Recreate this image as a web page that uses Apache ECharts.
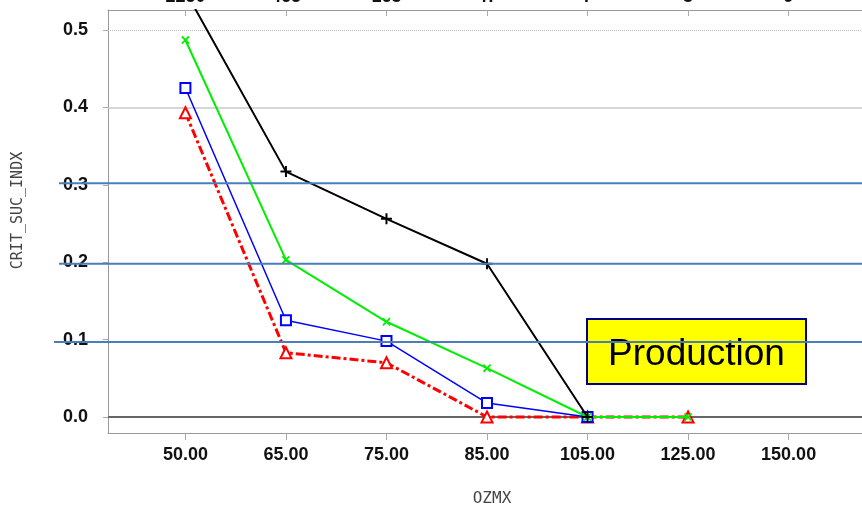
<!DOCTYPE html>
<html>
<head>
<meta charset="utf-8">
<script src="https://cdn.jsdelivr.net/npm/echarts@6/dist/echarts.min.js"></script>
<style>
html,body{margin:0;padding:0;background:#fff;}
#c{width:862px;height:507px;}
</style>
</head>
<body>
<div id="c"></div>
<script>
// ---- data ----
const categories = ['50.00', '65.00', '75.00', '85.00', '105.00', '125.00', '150.00'];
const topLabels = ['2250', '465', '163', '47', '7', '3', '9'];
const yTicks = [0, 0.1, 0.2, 0.3, 0.4, 0.5];
const blackVals = [0.55, 0.317, 0.256, 0.198, 0, null, null];
const greenVals = [0.487, 0.203, 0.123, 0.063, 0, 0, null];
const blueVals = [0.425, 0.125, 0.098, 0.018, 0, null, null];
const redVals = [0.393, 0.083, 0.070, 0, 0, 0, null];
const refLineVals = [0.302, 0.198, 0.097];
const annotationText = 'Production';

const idx = categories.map((_, i) => i);
const toPairs = arr => arr.map((v, i) => [i, v]);

const chart = echarts.init(document.getElementById('c'), null, {renderer: 'canvas'});
const plusPath = 'path://M4.1,0H5.9V4.1H10V5.9H5.9V10H4.1V5.9H0V4.1H4.1Z';

const option = {
  animation: false,
  backgroundColor: '#fff',
  grid: {left: 108, right: 0, top: 10, bottom: 74, containLabel: false, outerBoundsMode: 'none'},
  xAxis: [{
    type: 'value', position: 'bottom', min: -0.77, max: 6.73,
    name: 'OZMX', nameLocation: 'middle', nameGap: 58,
    nameTextStyle: {fontFamily: 'DejaVu Sans Mono', fontSize: 16, color: '#444', padding: [0, 0, 0, 14]},
    axisLine: {show: true, onZero: false, lineStyle: {color: '#999', width: 1}},
    axisTick: {show: true, customValues: idx, length: 7, inside: false, lineStyle: {color: '#aaa'}},
    axisLabel: {customValues: idx, formatter: v => categories[Math.round(v)], fontFamily: 'Liberation Sans',
      fontSize: 18, fontWeight: 'bold', color: '#111', margin: 13},
    splitLine: {show: false}
  }, {
    type: 'value', position: 'top', min: -0.77, max: 6.73,
    axisLine: {show: true, onZero: false, lineStyle: {color: '#999', width: 1}},
    axisTick: {show: true, customValues: idx, length: 6, inside: true, lineStyle: {color: '#aaa'}},
    axisLabel: {customValues: idx, formatter: v => topLabels[Math.round(v)], fontFamily: 'Liberation Sans',
      fontSize: 18, fontWeight: 'bold', color: '#111', margin: 4},
    splitLine: {show: false}
  }],
  yAxis: [{
    type: 'value', min: -0.0207, max: 0.5258,
    name: 'CRIT_SUC_INDX', nameLocation: 'middle', nameGap: 82,
    nameTextStyle: {fontFamily: 'DejaVu Sans Mono', fontSize: 15, color: '#444', padding: [0, 0, 0, 22]},
    axisLine: {show: true, onZero: false, lineStyle: {color: '#999', width: 1}},
    axisTick: {show: true, customValues: yTicks, length: 5, lineStyle: {color: '#aaa'}},
    axisLabel: {customValues: yTicks, formatter: v => v.toFixed(1), fontFamily: 'Liberation Sans',
      fontSize: 18, fontWeight: 'bold', color: '#111', margin: 20},
    splitLine: {show: false}
  }],
  series: [
    {
      type: 'line', data: [], z: 1, silent: true,
      markLine: {
        silent: true, symbol: 'none', label: {show: false}, animation: false, z: 1,
        data: [
          {yAxis: 0.5, lineStyle: {type: 'dotted', color: '#bbb', width: 1}},
          {yAxis: 0.4, lineStyle: {type: 'solid', color: '#c8c8c8', width: 1.5}},
          {yAxis: 0, lineStyle: {type: 'solid', color: '#666', width: 2}}
        ]
      }
    },
    {
      name: 'red', type: 'line', z: 2, data: toPairs(redVals),
      symbol: 'emptyTriangle', symbolSize: 11,
      lineStyle: {color: '#ff0000', width: 3, type: [9, 3, 3, 3]},
      itemStyle: {color: '#ff0000', borderWidth: 1.5}
    },
    {
      name: 'blue', type: 'line', z: 3, data: toPairs(blueVals),
      symbol: 'emptyRect', symbolSize: 10,
      lineStyle: {color: '#0000ff', width: 1.5},
      itemStyle: {color: '#0000ff', borderWidth: 1.5}
    },
    {
      name: 'green', type: 'line', z: 4, data: toPairs(greenVals),
      symbol: plusPath, symbolRotate: 45, symbolSize: 10,
      lineStyle: {color: '#00ee00', width: 2},
      itemStyle: {color: '#00ee00'}
    },
    {
      name: 'black', type: 'line', z: 5, data: toPairs(blackVals),
      symbol: plusPath, symbolSize: 11,
      lineStyle: {color: '#000', width: 2},
      itemStyle: {color: '#000'}
    }
  ]
};
chart.setOption(option);

// annotations: box + reference lines
const rightPx = 862;
const lineStarts = [59, 59, 54];
const graphics = [{
  type: 'group', z: 90,
  children: [{
    type: 'rect', shape: {x: 587, y: 319, width: 219, height: 65},
    style: {fill: '#ffff00', stroke: '#00008b', lineWidth: 2}, z: 90
  }, {
    type: 'text', x: 696.5, y: 355,
    style: {text: annotationText, font: '37px "Liberation Sans"', fill: '#000', align: 'center', verticalAlign: 'middle'}, z: 91
  }]
}];
refLineVals.forEach((v, i) => {
  const y = chart.convertToPixel({yAxisIndex: 0}, v);
  graphics.push({
    type: 'line', z: 100,
    shape: {x1: lineStarts[i], y1: y, x2: rightPx, y2: y},
    style: {stroke: '#4a7ebb', lineWidth: 2}
  });
});
chart.setOption({graphic: graphics});
</script>
</body>
</html>
